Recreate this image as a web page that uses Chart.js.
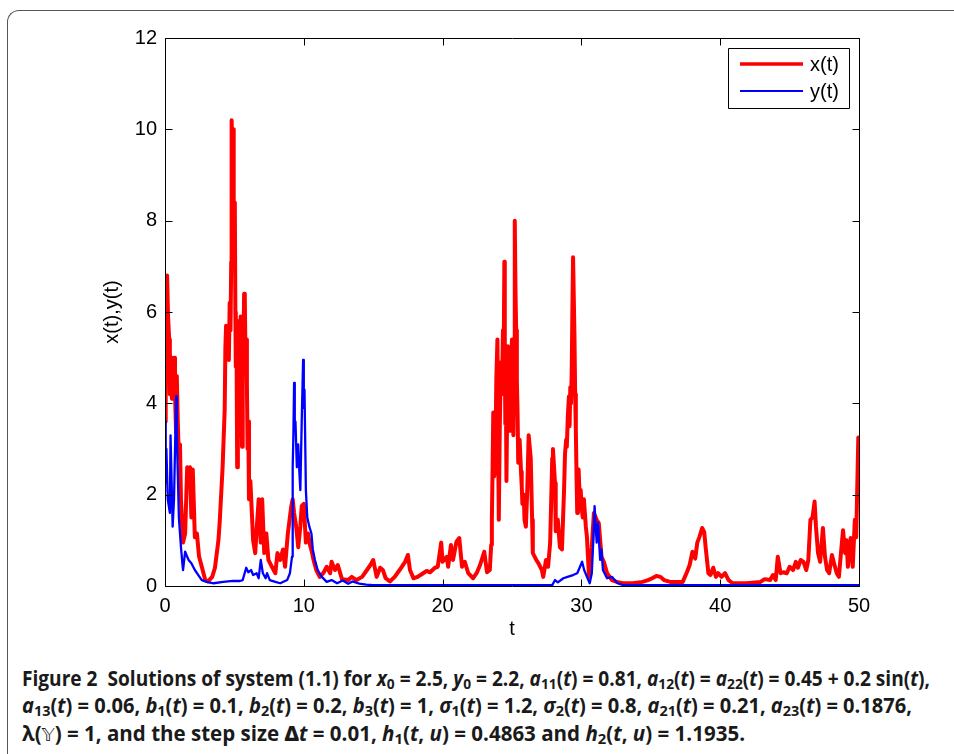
<!DOCTYPE html>
<html><head><meta charset="utf-8">
<script src="https://cdn.jsdelivr.net/npm/chart.js@4"></script>
<style>
html,body{margin:0;padding:0;background:#fff;width:954px;height:754px;overflow:hidden;}
#frame{position:absolute;left:7px;top:10px;width:1000px;height:800px;border-left:1px solid #555;border-top:1px solid #555;border-top-left-radius:12px;}
#c{position:absolute;left:0;top:0;}
#caption{position:absolute;left:22px;top:665px;font-family:"Open Sans","DejaVu Sans",sans-serif;font-weight:bold;font-size:20.5px;line-height:27.3px;color:#1a1a1a;}
#caption .ln{display:block;white-space:nowrap;transform-origin:0 50%;width:max-content;}
#caption sub{font-size:0.72em;vertical-align:-0.22em;line-height:0;}
#caption i{font-style:italic;}
.dbl{font-family:"DejaVu Sans","Noto Sans",sans-serif;font-weight:normal;font-size:0.9em;}
</style>
</head><body>
<div id="frame"></div>
<canvas id="c" width="954" height="660"></canvas>
<div id="caption">
<span class="ln" data-w="908">Figure 2&nbsp; Solutions of system (1.1) for <i>x</i><sub>0</sub> = 2.5, <i>y</i><sub>0</sub> = 2.2, <i>a</i><sub>11</sub>(<i>t</i>) = 0.81, <i>a</i><sub>12</sub>(<i>t</i>) = <i>a</i><sub>22</sub>(<i>t</i>) = 0.45 + 0.2 sin(<i>t</i>),</span>
<span class="ln" data-w="890"><i>a</i><sub>13</sub>(<i>t</i>) = 0.06, <i>b</i><sub>1</sub>(<i>t</i>) = 0.1, <i>b</i><sub>2</sub>(<i>t</i>) = 0.2, <i>b</i><sub>3</sub>(<i>t</i>) = 1, <i>σ</i><sub>1</sub>(<i>t</i>) = 1.2, <i>σ</i><sub>2</sub>(<i>t</i>) = 0.8, <i>a</i><sub>21</sub>(<i>t</i>) = 0.21, <i>a</i><sub>23</sub>(<i>t</i>) = 0.1876,</span>
<span class="ln" data-w="723">λ(<span class="dbl">𝕐</span>) = 1, and the step size <b>Δ</b><i>t</i> = 0.01, <i>h</i><sub>1</sub>(<i>t</i>, <i>u</i>) = 0.4863 and <i>h</i><sub>2</sub>(<i>t</i>, <i>u</i>) = 1.1935.</span>
</div>
<script>
// ---- data ----
const xTimes = [0,0.05,0.1,0.15,0.22,0.3,0.35,0.4,0.45,0.5,0.58,0.65,0.72,0.8,0.85,0.92,1.0,1.08,1.15,1.3,1.45,1.6,1.7,1.8,1.9,2.0,2.15,2.3,2.45,2.65,2.9,3.1,3.4,3.6,3.85,3.95,4.15,4.3,4.35,4.4,4.48,4.55,4.6,4.66,4.72,4.77,4.8,4.85,4.9,4.95,5.0,5.03,5.07,5.1,5.15,5.2,5.25,5.3,5.35,5.4,5.45,5.5,5.55,5.6,5.65,5.7,5.75,5.8,5.85,5.9,5.95,6.0,6.05,6.15,6.25,6.35,6.5,6.65,6.75,6.9,7.0,7.15,7.3,7.45,7.7,7.95,8.1,8.3,8.5,8.65,8.85,9.1,9.2,9.3,9.45,9.6,9.75,9.85,10.0,10.15,10.3,10.45,10.6,10.7,10.9,11.15,11.4,11.65,11.9,12.0,12.25,12.45,12.75,13.2,13.45,13.8,14.2,14.55,14.8,15.0,15.25,15.5,15.7,15.9,16.2,16.55,16.9,17.3,17.5,17.65,17.9,18.2,18.6,18.85,19.1,19.45,19.65,19.9,20.0,20.3,20.4,20.6,20.75,21.0,21.2,21.4,21.6,21.85,22.2,22.45,22.7,23.0,23.2,23.4,23.5,23.55,23.62,23.65,23.72,23.8,23.87,23.95,24.0,24.05,24.12,24.2,24.27,24.35,24.4,24.45,24.48,24.52,24.56,24.6,24.65,24.7,24.77,24.85,24.92,25.0,25.05,25.1,25.15,25.2,25.25,25.3,25.35,25.4,25.45,25.55,25.65,25.7,25.75,25.85,25.9,26.0,26.1,26.2,26.35,26.45,26.5,26.75,26.9,27.15,27.25,27.45,27.6,27.75,27.9,27.95,28.1,28.15,28.3,28.45,28.6,28.75,28.82,28.9,28.95,29.02,29.1,29.15,29.2,29.25,29.3,29.35,29.4,29.45,29.5,29.55,29.6,29.65,29.7,29.75,29.8,29.88,29.95,30.02,30.1,30.18,30.25,30.32,30.4,30.48,30.55,30.75,30.9,31.1,31.25,31.45,31.65,31.85,32.2,32.55,33.0,33.7,34.4,34.8,35.1,35.4,35.7,35.95,36.4,36.9,37.3,37.6,37.8,38.0,38.2,38.35,38.5,38.7,38.85,38.95,39.15,39.3,39.5,39.7,39.85,40.1,40.35,40.6,40.9,41.9,42.9,43.2,43.6,43.8,44.0,44.15,44.35,44.55,44.8,45.0,45.25,45.45,45.6,45.8,46.0,46.2,46.35,46.5,46.65,46.8,46.9,47.05,47.2,47.4,47.55,47.7,47.85,48.05,48.2,48.4,48.55,48.7,48.85,49.0,49.1,49.2,49.4,49.55,49.7,49.8,49.95,50];
const xValues = [3.6,6.2,5.6,6.8,5.9,5.4,4.2,4.6,5.0,4.1,4.7,5.0,4.2,3.35,4.6,3.6,2.8,3.1,1.9,0.95,1.15,2.6,2.5,2.6,1.5,2.55,1.07,1.15,0.65,0.42,0.13,0.1,0.2,0.4,1.0,1.45,2.6,3.85,5.2,5.7,5.0,5.7,4.95,6.2,5.6,7.1,10.2,9.6,10.0,8.5,7.7,8.4,6.0,4.8,5.5,2.6,4.5,5.8,4.2,3.3,5.9,4.6,3.05,4.8,5.2,6.4,6.3,5.0,5.4,4.45,3.0,3.6,1.9,2.3,1.65,1.0,0.72,1.45,1.9,0.95,1.9,0.72,1.15,0.57,0.42,0.28,0.72,0.57,0.8,0.42,1.15,1.75,1.9,1.6,1.3,0.85,1.3,1.75,1.8,0.95,1.15,0.9,0.72,0.57,0.35,0.2,0.28,0.42,0.28,0.53,0.35,0.46,0.15,0.13,0.2,0.13,0.2,0.35,0.46,0.57,0.2,0.4,0.35,0.17,0.1,0.2,0.35,0.53,0.68,0.35,0.17,0.2,0.28,0.33,0.3,0.4,0.42,0.95,0.53,0.64,0.42,0.9,0.57,0.97,1.05,0.42,0.53,0.28,0.17,0.28,0.46,0.75,0.3,0.35,0.9,1.45,3.0,3.8,2.4,2.7,4.5,5.4,3.2,1.45,3.5,4.9,4.2,5.6,5.0,7.1,5.2,3.55,4.4,2.3,3.8,5.25,4.3,3.4,4.8,5.4,4.1,3.3,5.0,8.0,6.5,5.6,4.5,3.8,2.7,3.2,2.5,2.2,1.8,2.0,1.45,1.3,2.1,3.3,2.8,1.45,0.72,0.57,0.5,0.35,0.2,0.57,0.42,0.95,2.8,3.0,2.25,1.2,1.45,0.85,0.8,2.1,2.9,3.2,3.05,3.7,4.15,3.5,4.35,4.0,4.65,6.0,7.2,7.2,5.5,4.2,3.4,2.4,1.6,2.3,2.55,1.9,2.1,1.7,1.5,1.9,1.6,1.3,1.07,0.6,0.2,0.85,1.6,1.45,1.38,0.64,0.5,0.28,0.13,0.09,0.06,0.06,0.09,0.13,0.17,0.22,0.2,0.13,0.09,0.09,0.09,0.3,0.46,0.75,0.6,0.95,1.07,1.27,1.18,0.85,0.28,0.24,0.4,0.2,0.28,0.2,0.28,0.13,0.06,0.06,0.09,0.15,0.13,0.24,0.13,0.64,0.28,0.3,0.28,0.42,0.35,0.53,0.4,0.57,0.53,0.35,0.57,1.45,1.5,1.85,1.3,0.72,0.53,1.27,0.64,0.35,0.28,0.68,0.5,0.28,0.2,0.72,1.22,0.72,1.0,0.42,1.05,0.42,1.45,1.07,3.25,3.1];
const yTimes = [0,0.05,0.1,0.2,0.35,0.4,0.55,0.65,0.8,0.85,1.0,1.15,1.25,1.3,1.45,1.7,1.9,2.15,2.4,2.65,3.0,3.5,4.2,4.9,5.4,5.6,5.85,6.0,6.2,6.35,6.6,6.75,6.9,7.05,7.25,7.35,7.55,7.95,8.3,8.8,9.0,9.15,9.2,9.25,9.3,9.35,9.4,9.5,9.6,9.68,9.75,9.85,9.95,10.0,10.05,10.15,10.25,10.4,10.55,10.65,10.8,11.0,11.3,11.65,12.0,12.4,12.8,13.2,13.5,14.0,14.5,15,20,25,26.2,27.9,28.1,28.3,28.7,29.0,29.4,29.7,29.9,30.05,30.2,30.4,30.6,30.75,30.85,30.95,31.1,31.2,31.35,31.45,31.55,31.85,32.2,32.6,33.0,50];
const yValues = [3.6,2.25,3.0,1.9,1.6,3.3,1.3,1.9,4.15,3.35,1.5,0.85,0.5,0.35,0.75,0.57,0.5,0.35,0.24,0.13,0.09,0.06,0.09,0.11,0.11,0.13,0.4,0.3,0.35,0.24,0.28,0.17,0.57,0.28,0.17,0.28,0.13,0.09,0.06,0.13,0.28,0.64,2.6,3.3,4.45,3.5,3.6,2.6,3.1,2.5,2.1,3.6,4.95,3.9,4.3,2.1,1.5,1.3,1.15,0.8,0.57,0.35,0.2,0.09,0.13,0.06,0.12,0.05,0.1,0.05,0.03,0.02,0.02,0.02,0.02,0.02,0.13,0.08,0.17,0.2,0.24,0.28,0.42,0.53,0.35,0.2,0.06,0.28,0.95,1.75,0.95,1.38,0.57,0.8,0.35,0.17,0.2,0.06,0.02,0.02];
const xTicks = [0,10,20,30,40,50];
const yTicks = [0,2,4,6,8,10,12];
const seriesNames = ['x(t)','y(t)'];
const seriesColors = ['#ff0000','#0000ff'];
const axisTitles = {x:'t', y:'x(t),y(t)'};

const FONT = 'Liberation Sans, Arial, Helvetica, sans-serif';
const TICK = 7;

const framePlugin = {
  id:'frame',
  afterDatasetsDraw(chart){
    const {ctx, chartArea:a, scales:{x,y}} = chart;
    ctx.save();
    ctx.strokeStyle='#000'; ctx.lineWidth=1;
    const L=Math.round(a.left)+0.5, R=Math.round(a.right)+0.5, T=Math.round(a.top)+0.5, B=Math.round(a.bottom)+0.5;
    ctx.beginPath(); ctx.rect(L,T,R-L,B-T); ctx.stroke();
    ctx.beginPath();
    xTicks.forEach(v=>{const p=Math.round(x.getPixelForValue(v))+0.5; ctx.moveTo(p,B); ctx.lineTo(p,B-TICK); ctx.moveTo(p,T); ctx.lineTo(p,T+TICK);});
    yTicks.forEach(v=>{const p=Math.round(y.getPixelForValue(v))+0.5; ctx.moveTo(L,p); ctx.lineTo(L+TICK,p); ctx.moveTo(R,p); ctx.lineTo(R-TICK,p);});
    ctx.stroke();
    // legend box
    const bx1=a.right-10-121, by1=a.top+10, bw=121, bh=60;
    ctx.fillStyle='#fff'; ctx.fillRect(bx1,by1,bw,bh);
    ctx.beginPath(); ctx.rect(Math.round(bx1)+0.5,Math.round(by1)+0.5,bw,bh); ctx.stroke();
    const rows=[by1+16, by1+43];
    const widths=[3.5,2.2];
    seriesNames.forEach((n,i)=>{
      ctx.strokeStyle=seriesColors[i]; ctx.lineWidth=widths[i];
      ctx.beginPath(); ctx.moveTo(bx1+12,rows[i]); ctx.lineTo(bx1+75,rows[i]); ctx.stroke();
      ctx.fillStyle='#000'; ctx.font='20px '+FONT; ctx.textBaseline='middle'; ctx.textAlign='left';
      ctx.fillText(n,bx1+82,rows[i]+1);
    });
    ctx.restore();
  }
};

new Chart(document.getElementById('c'),{
  type:'line',
  data:{datasets:[
    {label:seriesNames[0], data:xTimes.map((t,i)=>({x:t,y:xValues[i]})), borderColor:seriesColors[0], borderWidth:4, pointRadius:0, tension:0, order:1, borderJoinStyle:'round', fill:false},
    {label:seriesNames[1], data:yTimes.map((t,i)=>({x:t,y:yValues[i]})), borderColor:seriesColors[1], borderWidth:2.3, pointRadius:0, tension:0, order:0, borderJoinStyle:'round', fill:false}
  ]},
  options:{
    responsive:false, animation:false,
    layout:{padding:{top:38,right:95,left:0,bottom:0}},
    plugins:{legend:{display:false}, tooltip:{enabled:false}},
    scales:{
      x:{type:'linear', min:0, max:50,
         afterBuildTicks(s){s.ticks=xTicks.map(v=>({value:v}));},
         ticks:{color:'#000', font:{family:FONT,size:20}, padding:8, maxRotation:0, autoSkip:false},
         grid:{display:false, drawTicks:false}, border:{display:false},
         title:{display:true, text:axisTitles.x, color:'#000', font:{family:FONT,size:20}, padding:{top:0,bottom:19}},
         afterFit(s){s.height=74;}},
      y:{type:'linear', min:0, max:12,
         afterBuildTicks(s){s.ticks=yTicks.map(v=>({value:v}));},
         ticks:{color:'#000', font:{family:FONT,size:20}, padding:8, autoSkip:false},
         grid:{display:false, drawTicks:false}, border:{display:false},
         title:{display:true, text:axisTitles.y, color:'#000', font:{family:FONT,size:20}, padding:{top:100,bottom:0}},
         afterFit(s){s.width=165;}}
    }
  },
  plugins:[framePlugin]
});

document.querySelectorAll('#caption .ln').forEach(el=>{
  const w=el.getBoundingClientRect().width;
  const target=+el.dataset.w;
  el.style.transform='scaleX('+(target/w)+')';
});
</script>
</body></html>
